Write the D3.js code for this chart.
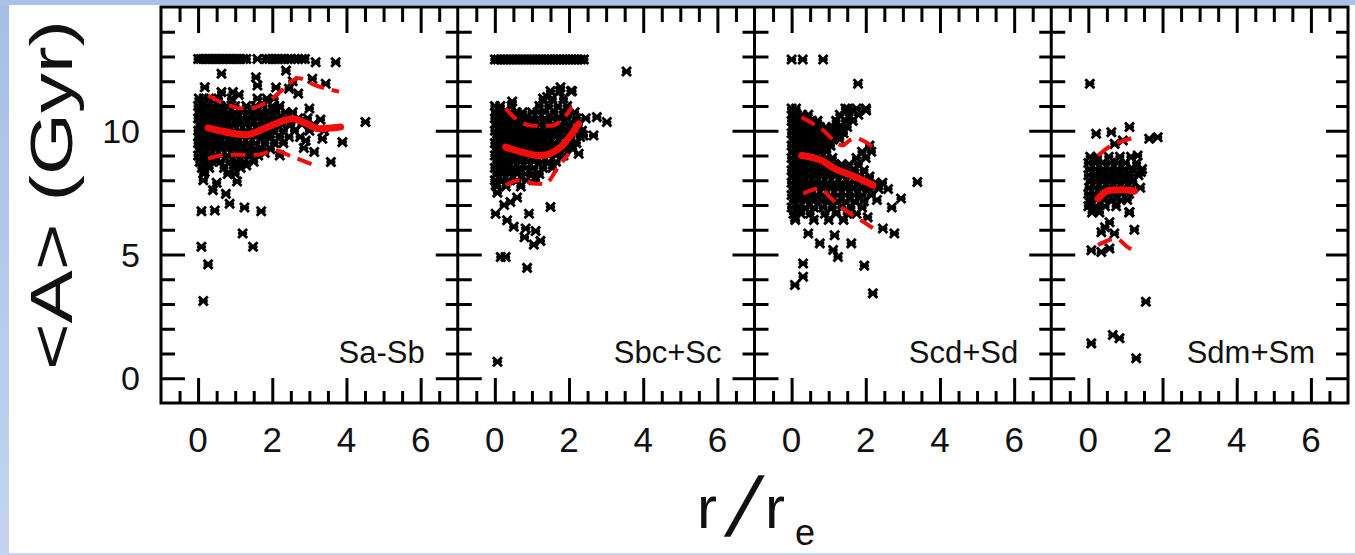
<!DOCTYPE html>
<html lang="en">
<head>
<meta charset="UTF-8">
<title>Mean age profiles</title>
<style>
  body { margin: 0; background: #fff; }
  svg { display: block; }
  text { font-family: "Liberation Sans", Arial, sans-serif; fill: #111; }
</style>
</head>
<body>
<svg id="viz" width="1355" height="555"></svg>
<script src="https://d3js.org/d3.v7.min.js"></script>
<script>
// ---- data (r/re, <A> in Gyr) ----
const panelNames = ["Sa-Sb", "Sbc+Sc", "Scd+Sd", "Sdm+Sm"];
const xMajor = [0, 2, 4, 6];
const yMajor = [0, 5, 10];

// dense clouds, written as rows: [A, [r, r, ...]]
const saRows = [
  [12.9, [0.0,0.07,0.14,0.22,0.3,0.37,0.45,0.52,0.6,0.68,0.75,0.83,0.9,0.98,1.06,1.14,1.22,1.3,1.6,1.84,1.92,2.0,2.08,2.16,2.25,2.33,2.42,2.5,2.6,2.7,2.8,2.88]],
  [11.3, [0.02,0.15,0.3,0.55,0.9,1.6,1.85,2.05]],
  [11.0, [0.0,0.1,0.22,0.4,0.6,0.78,1.0,1.3,1.55,1.75,2.0,2.2]],
  [10.75,[0.03,0.12,0.25,0.38,0.5,0.66,0.82,1.0,1.18,1.35,1.52,1.7,1.9,2.1,2.35,2.55]],
  [10.5, [0.0,0.14,0.27,0.42,0.56,0.7,0.88,1.05,1.2,1.4,1.58,1.76,1.95,2.15,2.4,2.7,2.95]],
  [10.25,[0.05,0.18,0.3,0.45,0.6,0.76,0.92,1.1,1.26,1.45,1.62,1.82,2.0,2.25,2.5,2.8,3.1]],
  [10.0, [0.0,0.1,0.24,0.36,0.5,0.65,0.8,0.96,1.12,1.3,1.48,1.66,1.85,2.05,2.3,2.6,3.0,3.4]],
  [9.75, [0.02,0.15,0.28,0.42,0.57,0.72,0.88,1.04,1.2,1.38,1.56,1.74,1.95,2.2,2.45,2.75]],
  [9.5,  [0.0,0.12,0.25,0.4,0.55,0.7,0.85,1.0,1.18,1.35,1.55,1.8,2.05,2.3]],
  [9.25, [0.04,0.18,0.32,0.48,0.62,0.78,0.95,1.12,1.3,1.5,1.72,1.95]],
  [9.0,  [0.0,0.14,0.3,0.45,0.62,0.8,1.0,1.2,1.4,1.62]],
  [8.75, [0.05,0.2,0.38,0.6,0.85,1.05,1.25,1.5]],
  [8.5,  [0.1,0.3,0.7,0.95,1.15]],
  [8.25, [0.15,0.8,1.0]]
];
const saOut = [[3.71,12.77],[3.17,12.77],[4.51,10.35],[3.89,9.54],[3.58,8.74],[3.13,9.14],[3.35,9.68],[3.44,11.9],[3.08,12.1],[2.37,12.43],[1.56,12.16],[1.6,11.83],[0.63,12.3],[0.18,11.76],[0.63,11.56],[0.94,11.56],[0.05,8.74],[0.18,8.33],[0.14,8.0],[0.5,7.9],[0.4,7.6],[0.75,7.45],[0.85,7.05],[1.05,7.95],[0.09,6.75],[0.45,6.78],[1.25,6.9],[1.7,6.75],[1.2,5.85],[1.48,5.31],[0.09,5.31],[0.27,4.6],[0.14,3.12],[2.9,9.6],[2.55,12.0],[2.1,11.75],[1.1,11.45],[2.45,11.7],[2.7,11.5],[3.0,10.9],[3.3,10.45],[2.85,9.3],[2.2,9.0],[1.3,8.6],[1.8,9.1]];
const saMed = [[0.27,10.12],[0.6,10.0],[1.0,9.88],[1.3,9.84],[1.8,10.1],[2.2,10.35],[2.55,10.48],[2.9,10.3],[3.26,10.08],[3.84,10.15]];
const saHi  = [[0.27,11.42],[0.7,11.1],[1.3,10.89],[1.9,11.2],[2.2,11.56],[2.72,12.12],[3.17,11.83],[3.8,11.58]];
const saLo  = [[0.27,8.87],[0.76,9.03],[1.57,9.03],[2.1,9.2],[2.46,9.0],[2.9,8.74],[3.26,8.53]];

const sbRows = [
  [12.88,[0.0,0.08,0.16,0.24,0.32,0.4,0.48,0.56,0.64,0.72,0.8,0.88,0.96,1.04,1.12,1.2,1.28,1.36,1.44,1.52,1.6,1.68,1.76,1.84,1.92,2.0,2.08,2.16,2.24,2.32,2.4]],
  [11.6, [1.5,1.75,2.05]],
  [11.3, [1.3,1.55,1.85]],
  [11.0, [0.0,0.15,0.45,1.2,1.45,1.7,1.95]],
  [10.75,[0.02,0.14,0.28,0.42,0.58,0.75,1.0,1.15,1.35,1.6,1.85,2.15]],
  [10.5, [0.0,0.12,0.25,0.38,0.52,0.68,0.85,1.0,1.18,1.35,1.55,1.75,1.95,2.2,2.45]],
  [10.25,[0.03,0.16,0.3,0.45,0.6,0.75,0.9,1.05,1.22,1.4,1.58,1.78,2.0,2.25]],
  [10.0, [0.0,0.12,0.26,0.4,0.55,0.7,0.86,1.02,1.18,1.35,1.52,1.7,1.9,2.1,2.35]],
  [9.75, [0.05,0.18,0.32,0.48,0.62,0.78,0.94,1.1,1.28,1.45,1.64,1.84,2.05,2.3]],
  [9.5,  [0.0,0.12,0.26,0.4,0.56,0.72,0.88,1.05,1.22,1.4,1.6,1.8,2.0,2.2]],
  [9.25, [0.04,0.18,0.33,0.48,0.64,0.8,0.97,1.15,1.33,1.52,1.72,1.9,2.1]],
  [9.0,  [0.0,0.12,0.27,0.42,0.58,0.75,0.92,1.1,1.28,1.46,1.65,1.85]],
  [8.75, [0.05,0.2,0.35,0.52,0.7,0.88,1.05,1.25,1.45,1.65]],
  [8.5,  [0.0,0.15,0.3,0.48,0.66,0.85,1.05,1.3,1.55]],
  [8.25, [0.05,0.22,0.4,0.6,0.82,1.0,1.2]],
  [8.0,  [0.0,0.18,0.36,0.6,0.85,1.1]],
  [7.75, [0.05,0.3,0.7]]
];
const sbOut = [[3.55,12.39],[2.08,11.6],[1.77,11.76],[1.41,11.36],[0.47,11.18],[2.75,10.55],[3.02,10.35],[2.39,9.81],[2.66,9.81],[2.26,9.07],[0.02,7.8],[0.07,7.5],[0.42,7.12],[1.5,6.92],[0.02,6.65],[0.33,6.38],[0.51,6.12],[0.92,6.65],[0.83,6.05],[1.1,5.95],[0.8,5.7],[1.05,5.4],[1.23,5.55],[0.16,4.9],[0.29,4.9],[0.87,4.46],[0.07,0.67],[0.6,7.3],[0.25,7.0]];
const sbMed = [[0.29,9.34],[0.7,9.15],[1.23,9.0],[1.77,9.34],[2.26,10.28]];
const sbHi  = [[0.29,10.89],[0.69,10.35],[1.05,10.2],[1.5,10.2],[1.85,10.5],[2.08,10.95]];
const sbLo  = [[0.29,7.8],[0.69,8.0],[1.09,7.86],[1.36,7.86],[1.68,8.47],[1.99,9.07]];

const scRows = [
  [10.9, [0.0,0.12,1.45,1.75,2.0]],
  [10.65,[0.02,0.14,0.28,0.45,1.3,1.55,1.8]],
  [10.4, [0.0,0.12,0.25,0.4,0.55,0.7,1.2,1.45,1.65]],
  [10.15,[0.03,0.16,0.3,0.45,0.6,0.76,0.92,1.1,1.3,1.5]],
  [9.9,  [0.0,0.12,0.26,0.4,0.55,0.7,0.86,1.02,1.2,1.4]],
  [9.65, [0.04,0.17,0.32,0.47,0.62,0.78,0.95,1.12,1.3]],
  [9.4,  [0.0,0.13,0.28,0.43,0.58,0.74,0.9,1.05,2.1]],
  [9.15, [0.03,0.16,0.31,0.46,0.62,0.78,0.95,1.9,2.15]],
  [8.9,  [0.0,0.12,0.27,0.42,0.58,0.75,0.92,1.1,1.75,2.0]],
  [8.65, [0.04,0.17,0.32,0.48,0.64,0.8,0.98,1.15,1.35,1.55,1.8]],
  [8.4,  [0.0,0.13,0.28,0.44,0.6,0.76,0.93,1.1,1.28,1.48,1.7,1.95]],
  [8.15, [0.03,0.17,0.32,0.48,0.65,0.82,1.0,1.18,1.38,1.6,1.85,2.1]],
  [7.9,  [0.0,0.13,0.28,0.44,0.6,0.78,0.96,1.15,1.35,1.56,1.78,2.0,2.25,2.45]],
  [7.65, [0.04,0.18,0.34,0.5,0.68,0.86,1.05,1.25,1.45,1.66,1.88,2.1,2.35,2.6]],
  [7.4,  [0.0,0.14,0.3,0.48,0.66,0.85,1.05,1.25,1.46,1.68,1.9,2.15]],
  [7.15, [0.05,0.2,0.38,0.58,0.8,1.0,1.22,1.45,1.7,1.95]],
  [6.9,  [0.0,0.16,0.36,0.6,0.85,1.1,1.35,1.6,1.9]],
  [6.65, [0.05,0.25,0.5,0.9,1.2,1.5,1.75]],
  [6.4,  [0.1,0.6,1.0,1.4]]
];
const scOut = [[0.0,12.88],[0.3,12.88],[0.85,12.88],[1.79,11.9],[1.52,10.89],[2.01,10.82],[3.39,7.93],[2.95,7.26],[2.77,5.85],[2.46,6.05],[2.05,6.5],[0.09,6.5],[0.45,5.85],[0.76,5.45],[1.16,5.78],[1.61,5.45],[1.12,5.18],[1.25,4.9],[0.31,4.64],[1.96,4.55],[0.31,4.1],[0.09,3.77],[2.19,3.43],[2.7,6.9],[2.3,7.2]];
const scMed = [[0.27,9.0],[0.8,8.8],[1.16,8.47],[1.61,8.2],[2.19,7.8]];
const scHi  = [[0.27,10.55],[0.8,10.08],[1.38,9.41],[1.55,9.6],[1.7,9.7],[2.19,9.35]];
const scLo  = [[0.31,7.46],[0.76,7.66],[1.07,7.26],[1.43,6.8],[1.78,6.47],[2.19,6.07]];

const smRows = [
  [8.95, [0.05,0.25,0.55,0.85,1.15]],
  [8.7,  [0.0,0.18,0.38,0.6,0.8,1.0,1.3]],
  [8.45, [0.03,0.2,0.4,0.58,0.78,0.98,1.2,1.45]],
  [8.2,  [0.0,0.16,0.34,0.52,0.72,0.92,1.12,1.35]],
  [7.95, [0.05,0.22,0.4,0.6,0.8,1.0,1.2]],
  [7.7,  [0.02,0.18,0.36,0.55,0.75,0.95,1.15,1.4]],
  [7.45, [0.0,0.15,0.32,0.5,0.7,0.9,1.1]],
  [7.2,  [0.05,0.22,0.42,0.65,0.88,1.05]],
  [6.95, [0.0,0.2,0.45,0.75]],
  [6.7,  [0.1,0.3,1.1]]
];
const smOut = [[0.04,11.9],[0.21,9.88],[0.62,9.94],[1.11,10.15],[1.64,9.68],[1.87,9.74],[0.71,9.47],[0.93,9.61],[1.33,9.0],[1.42,8.33],[0.04,7.1],[0.26,6.78],[1.11,6.72],[0.57,6.3],[0.35,5.9],[0.7,5.85],[1.24,6.0],[0.08,5.17],[0.35,5.1],[0.57,5.24],[1.55,3.09],[0.08,1.41],[0.66,1.75],[0.84,1.62],[1.29,0.81],[0.45,6.1]];
const smMed = [[0.26,7.26],[0.57,7.6],[0.9,7.62],[1.24,7.56]];
const smHi  = [[0.26,9.0],[0.7,9.47],[0.97,9.6],[1.24,9.74]];
const smLo  = [[0.26,5.38],[0.75,5.64],[1.06,5.3],[1.24,5.13]];

// ---- build panels ----
const flat = rows => rows.flatMap(([a, rs]) => rs.map(r => [r, a]));
const panels = [
  {name: panelNames[0], pts: flat(saRows).concat(saOut), med: saMed, hi: saHi, lo: saLo},
  {name: panelNames[1], pts: flat(sbRows).concat(sbOut), med: sbMed, hi: sbHi, lo: sbLo},
  {name: panelNames[2], pts: flat(scRows).concat(scOut), med: scMed, hi: scHi, lo: scLo},
  {name: panelNames[3], pts: flat(smRows).concat(smOut), med: smMed, hi: smHi, lo: smLo}
];

const svg = d3.select("#viz");
const W = 1355, H = 555;
const plotL = 161, pw = 296.75, plotT = 7, plotB = 403;

// light blue page border
const defs = svg.append("defs");
const g1 = defs.append("linearGradient").attr("id", "edge").attr("x1", 0).attr("y1", 0).attr("x2", 0).attr("y2", 1);
g1.append("stop").attr("offset", 0).attr("stop-color", "#a6bee7");
g1.append("stop").attr("offset", 1).attr("stop-color", "#c4d4ef");
svg.append("rect").attr("width", W).attr("height", H).attr("fill", "#fff");
svg.append("rect").attr("x", 0).attr("y", 0).attr("width", 9).attr("height", H).attr("fill", "url(#edge)");
svg.append("rect").attr("x", 0).attr("y", 0).attr("width", W).attr("height", 5).attr("fill", "#a9c1e9");
svg.append("rect").attr("x", 0).attr("y", H - 2).attr("width", W).attr("height", 2).attr("fill", "#c6d6f1");

const y = d3.scaleLinear().domain([-1, 15]).range([plotB, plotT]);
const line = (x) => d3.line().x(d => x(d[0])).y(d => y(d[1])).curve(d3.curveMonotoneX);
const marker = "M-4.5,-4.5L4.5,4.5M-4.5,4.5L4.5,-4.5M-4.5,0L4.5,0";

const xMinor = d3.range(-0.5, 7, 0.5).filter(v => !xMajor.includes(v));
const yMinor = d3.range(0, 15, 1).filter(v => !yMajor.includes(v));

panels.forEach((p, i) => {
  const x = d3.scaleLinear().domain([-1, 7]).range([plotL + i * pw, plotL + (i + 1) * pw]);
  const g = svg.append("g");

  // points
  g.append("g").selectAll("path").data(p.pts).join("path")
    .attr("d", marker)
    .attr("transform", d => `translate(${x(d[0])},${y(d[1])})`)
    .attr("stroke", "#000").attr("stroke-width", 2.9).attr("fill", "none");

  // red profiles
  g.append("path").datum(p.hi).attr("d", line(x))
    .attr("fill", "none").attr("stroke", "#f20d0d").attr("stroke-width", 4).attr("stroke-dasharray", "15,8");
  g.append("path").datum(p.lo).attr("d", line(x))
    .attr("fill", "none").attr("stroke", "#f20d0d").attr("stroke-width", 4).attr("stroke-dasharray", "15,8");
  g.append("path").datum(p.med).attr("d", line(x))
    .attr("fill", "none").attr("stroke", "#f20d0d").attr("stroke-width", 7).attr("stroke-linecap", "round");

  // ticks
  const tick = (axis, vals, size, tr) => {
    const a = g.append("g").attr("transform", tr)
      .call(axis.tickValues(vals).tickSize(size).tickFormat(""));
    a.select(".domain").remove();
    a.selectAll("line").attr("stroke", "#000").attr("stroke-width", 3);
  };
  tick(d3.axisBottom(x), xMajor, -25, `translate(0,${plotB})`);
  tick(d3.axisBottom(x), xMinor, -12, `translate(0,${plotB})`);
  tick(d3.axisTop(x), xMajor, -26, `translate(0,${plotT})`);
  tick(d3.axisTop(x), xMinor, -15, `translate(0,${plotT})`);
  tick(d3.axisLeft(y), yMajor, -24, `translate(${x(-1)},0)`);
  tick(d3.axisLeft(y), yMinor, -14, `translate(${x(-1)},0)`);
  tick(d3.axisRight(y), yMajor, -22, `translate(${x(7)},0)`);
  tick(d3.axisRight(y), yMinor, -12, `translate(${x(7)},0)`);

  // x tick labels
  g.selectAll("text.xl").data(xMajor).join("text")
    .attr("class", "xl")
    .attr("x", d => x(d)).attr("y", 452)
    .attr("text-anchor", "middle").attr("font-size", 35)
    .text(d => d);

  // panel name
  g.append("text")
    .attr("x", x(7) - 33).attr("y", 363)
    .attr("text-anchor", "end").attr("font-size", 31)
    .text(p.name);
});

// frame
svg.append("rect")
  .attr("x", plotL).attr("y", plotT).attr("width", pw * 4).attr("height", plotB - plotT)
  .attr("fill", "none").attr("stroke", "#000").attr("stroke-width", 3);
d3.range(1, 4).forEach(i => {
  svg.append("line")
    .attr("x1", plotL + i * pw).attr("x2", plotL + i * pw)
    .attr("y1", plotT).attr("y2", plotB)
    .attr("stroke", "#000").attr("stroke-width", 3);
});

// y tick labels
svg.selectAll("text.yl").data(yMajor).join("text")
  .attr("class", "yl")
  .attr("x", 140).attr("y", d => y(d) + 12)
  .attr("text-anchor", "end").attr("font-size", 34)
  .text(d => d);

// axis titles
svg.append("text")
  .attr("transform", "translate(72,195) rotate(-90)")
  .attr("text-anchor", "middle").attr("font-size", 60)
  .attr("textLength", 350).attr("lengthAdjust", "spacingAndGlyphs")
  .text("<A>  (Gyr)");

svg.append("text").attr("x", 697).attr("y", 528).attr("font-size", 60).text("r");
svg.append("text").attr("transform", "translate(724,536) skewX(-16)").attr("font-size", 84).text("/");
svg.append("text").attr("x", 765).attr("y", 528).attr("font-size", 60).text("r");
svg.append("text").attr("x", 795).attr("y", 545).attr("font-size", 36).text("e");
</script>
</body>
</html>
